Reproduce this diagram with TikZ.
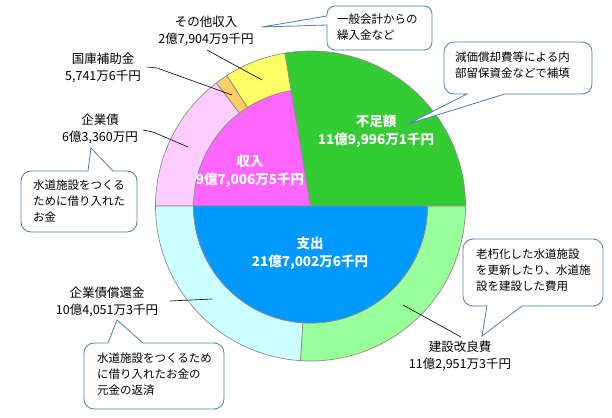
\documentclass[tikz,border=0pt]{standalone}
\usepackage{fontspec}
\newfontfamily\jp{Noto Sans CJK JP}
\definecolor{cG}{HTML}{33CC33}
\definecolor{cM}{HTML}{FF66FF}
\definecolor{cP}{HTML}{FFCCFF}
\definecolor{cO}{HTML}{FFCC66}
\definecolor{cY}{HTML}{FFFF66}
\definecolor{cB}{HTML}{0099FF}
\definecolor{cC}{HTML}{CCFFFF}
\definecolor{cL}{HTML}{99FF99}
\definecolor{bubblue}{HTML}{4A7EBB}
\definecolor{slgray}{HTML}{8C8C8C}
\begin{document}
\begin{tikzpicture}[x=1pt,y=1pt,
  sl/.style={draw=slgray, line width=0.7pt},
  lbl/.style={font=\jp\fontsize{12.5}{17}\selectfont, align=center, inner sep=0},
  inl/.style={font=\jp\bfseries\fontsize{13.5}{18}\selectfont, text=white, align=center, inner sep=0},
  bub/.style={draw=bubblue, fill=white, line width=0.8pt},
  btxt/.style={font=\jp\fontsize{11.5}{16}\selectfont, align=left, anchor=west, inner sep=0},
  lead/.style={draw=black, line width=0.6pt}]
\useasboundingbox (0,0) rectangle (612,417);
% pie
\begin{scope}[shift={(310.5,211)}]
  \path[sl, fill=cG] (0,0) -- (0:155) arc[start angle=0,end angle=99.535,radius=155] -- cycle;
  \path[sl, fill=cM] (0,0) -- (99.535:117) arc[start angle=99.535,end angle=180,radius=117] -- cycle;
  \path[sl, fill=cY] (99.535:155) arc[start angle=99.535,end angle=122.681,radius=155] -- (122.681:117) arc[start angle=122.681,end angle=99.535,radius=117] -- cycle;
  \path[sl, fill=cO] (122.681:155) arc[start angle=122.681,end angle=127.444,radius=155] -- (127.444:117) arc[start angle=127.444,end angle=122.681,radius=117] -- cycle;
  \path[sl, fill=cP] (127.444:155) arc[start angle=127.444,end angle=180,radius=155] -- (180:117) arc[start angle=180,end angle=127.444,radius=117] -- cycle;
  \path[sl, fill=cC] (180:155) arc[start angle=180,end angle=266.309,radius=155] -- (266.309:117) arc[start angle=266.309,end angle=180,radius=117] -- cycle;
  \path[sl, fill=cL] (266.309:155) arc[start angle=266.309,end angle=360,radius=155] -- (360:117) arc[start angle=360,end angle=266.309,radius=117] -- cycle;
  \path[sl, fill=cB] (0,0) -- (180:117) arc[start angle=180,end angle=360,radius=117] -- cycle;
\end{scope}
% inner labels
\node[inl] (inc) at (250,245.5) {収入\\9億7,006万5千円};
\node[inl] (def) at (376,286) {不足額\\11億9,996万1千円};
\node[inl] (exp) at (310,163.5) {支出\\21億7,002万6千円};
% outer labels
\node[lbl] (oth) at (206,386) {その他収入\\2億7,904万9千円};
\node[lbl] (kok) at (103,349) {国庫補助金\\5,741万6千円};
\node[lbl] (kig) at (100,288) {企業債\\6億3,360万円};
\node[lbl] (sho) at (107,115.5) {企業債償還金\\10億4,051万3千円};
\node[lbl] (ken) at (460,61.5) {建設改良費\\11億2,951万3千円};
% leader lines
\coordinate (othA) at (207,367); \coordinate (othB) at (262,337);
\coordinate (kokA) at (147,350); \coordinate (kokM) at (157,349); \coordinate (kokB) at (232,322);
\coordinate (kigA) at (143,287); \coordinate (kigM) at (153,285); \coordinate (kigB) at (188,270);
\coordinate (shoA) at (170,116); \coordinate (shoB) at (212,118);
\coordinate (kenA) at (461,80); \coordinate (kenB) at (403,112);
\draw[lead] (othA) -- (othB);
\draw[lead] (kokA) -- (kokM) -- (kokB);
\draw[lead] (kigA) -- (kigM) -- (kigB);
\draw[lead] (shoA) -- (shoB);
\draw[lead] (kenA) -- (kenB);
% callouts
\path[bub] (335,367) -- (424,367) arc[start angle=-90,end angle=0,radius=8] -- (432,403) arc[start angle=0,end angle=90,radius=8] -- (335,411) arc[start angle=90,end angle=180,radius=8] -- (327,401) -- (262,390) -- (327,392) -- (327,375) arc[start angle=180,end angle=270,radius=8] -- cycle;
\node[btxt] (b1) at (337,389.5) {一般会計からの\\繰入金など};
\path[bub] (454,323) -- (467,323) -- (408,293) -- (505,323) -- (582,323) arc[start angle=-90,end angle=0,radius=10] -- (592,365) arc[start angle=0,end angle=90,radius=10] -- (454,375) arc[start angle=90,end angle=180,radius=10] -- (444,333) arc[start angle=180,end angle=270,radius=10] -- cycle;
\node[btxt] (b2) at (455,351.5) {減価償却費等による内\\部留保資金などで補填};
\path[bub] (31,185) -- (127,185) arc[start angle=-90,end angle=0,radius=10] -- (137,236) arc[start angle=0,end angle=90,radius=10] -- (113,246) -- (91,269) -- (88,246) -- (31,246) arc[start angle=90,end angle=180,radius=10] -- (21,195) arc[start angle=180,end angle=270,radius=10] -- cycle;
\node[btxt] (b3) at (33,216.5) {水道施設をつくる\\ために借り入れた\\お金};
\path[bub] (94,8) -- (214,8) arc[start angle=-90,end angle=0,radius=10] -- (224,64) arc[start angle=0,end angle=90,radius=10] -- (143,74) -- (117,97) -- (108,74) -- (94,74) arc[start angle=90,end angle=180,radius=10] -- (84,18) arc[start angle=180,end angle=270,radius=10] -- cycle;
\node[btxt] (b4) at (97,42.5) {水道施設をつくるため\\に借り入れたお金の\\元金の返済};
\path[bub] (473,111) -- (487,111) -- (482,81) -- (522,111) -- (593,111) arc[start angle=-90,end angle=0,radius=10] -- (603,168) arc[start angle=0,end angle=90,radius=10] -- (473,178) arc[start angle=90,end angle=180,radius=10] -- (463,121) arc[start angle=180,end angle=270,radius=10] -- cycle;
\node[btxt] (b5) at (476,147) {老朽化した水道施設\\を更新したり、水道施\\設を建設した費用};
\end{tikzpicture}
\end{document}
